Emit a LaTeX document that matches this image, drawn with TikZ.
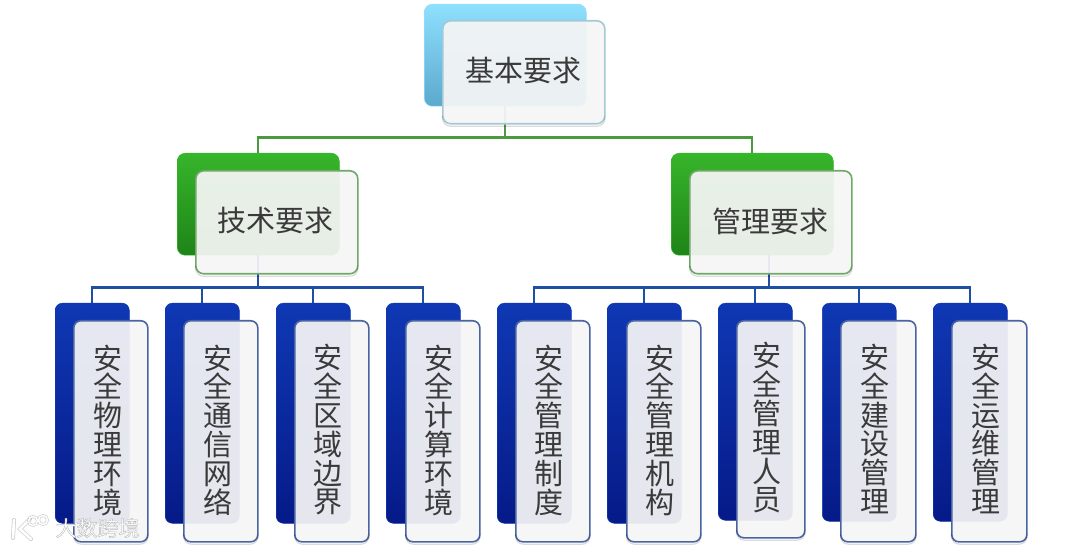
\documentclass[tikz,border=0pt]{standalone}
\usepackage{fontspec}
\setmainfont{Noto Sans CJK SC}
\usetikzlibrary{calc}
\definecolor{txt}{HTML}{3A3A3A}
\definecolor{skyT}{HTML}{8FE0FF}\definecolor{skyB}{HTML}{5BA9CC}\definecolor{skyE}{HTML}{A3C8D6}
\definecolor{grnT}{HTML}{37B52B}\definecolor{grnB}{HTML}{1E8418}\definecolor{grnE}{HTML}{6FA868}
\definecolor{bluT}{HTML}{0F38B4}\definecolor{bluB}{HTML}{061A88}\definecolor{bluE}{HTML}{4A64A2}
\definecolor{grnL}{HTML}{4C9A40}\definecolor{bluL}{HTML}{1F4FA5}
\definecolor{panel}{HTML}{F6F6F6}
\tikzset{
 backbox/.style={rounded corners=8pt,inner sep=0pt,anchor=north west,top color=#1T,bottom color=#1B,draw=#1T,line width=.5pt},
 backwide/.style={backbox=#1,minimum width=162pt,minimum height=102pt},
 backtall/.style={backbox=#1,rounded corners=7pt,minimum width=74pt,minimum height=220pt},
 frontbox/.style={rounded corners=8pt,inner sep=0pt,anchor=north west,fill=panel,fill opacity=.93,draw=#1E,line width=1.6pt},
 frontwide/.style={frontbox=#1,minimum width=162pt,minimum height=103pt},
 fronttall/.style={frontbox=#1,rounded corners=7pt,minimum width=74pt,minimum height=221pt},
 wlabel/.style={text=txt,font=\fontsize{29}{29}\selectfont,inner sep=0pt},
 vlabel/.style={text=txt,font=\fontsize{29}{28.8}\selectfont,inner sep=0pt,align=center},
 greenline/.style={draw=grnL,line width=2.4pt},
 blueline/.style={draw=bluL,line width=2.4pt},
 shadowline/.style={draw=black,opacity=.14,line width=1.2pt,rounded corners=8pt},
 wmark/.style={text=white,font=\fontsize{21}{21}\selectfont,inner sep=0pt},
 wshade/.style={draw=black!50,opacity=.4,line width=4pt,line cap=round},
 wstroke/.style={draw=white,line width=2.6pt,line cap=round}
}
\newcommand{\strokedtext}[1]{\special{pdf:code 2 Tr 0.4 w 0.72 0.72 0.72 RG}#1\special{pdf:code 0 Tr}}
\begin{document}
\begin{tikzpicture}[x=1pt,y=-1pt]
\useasboundingbox (0,0) rectangle (1080,548);
\fill[white] (0,0) rectangle (1080,548);
% back boxes
\node[backwide=sky] (topB) at (424,4) {};
\node[backwide=grn] (techB) at (177,153) {};
\node[backwide=grn] (mgmtB) at (671,153) {};
\foreach \n/\x/\h in {a/55/220,b/165/220,c/276/220,d/386/220,e/497/220,f/607/220,g/718/217,h/822/218,i/933/218}
  \node[backtall=blu,minimum height=\h pt] (\n B) at (\x,303) {};
% connectors
\coordinate (busTop) at ($(topB.south)+(0,31)$);
\coordinate (busTech) at ($(techB.south)+(0,32)$);
\coordinate (busMgmt) at ($(mgmtB.south)+(17,32)$);
\draw[greenline] (topB.south) -- (busTop);
\draw[greenline] (techB.north) |- (busTop) -| (mgmtB.north);
\draw[blueline] (techB.south) -- (busTech);
\draw[blueline] (mgmtB.south -| busMgmt) -- (busMgmt);
\draw[blueline] (aB.north) |- (busTech) -| (dB.north);
\draw[blueline] (bB.north) |- (busTech);
\draw[blueline] (cB.north) |- (busTech);
\draw[blueline] (eB.north) |- (busMgmt) -| (iB.north);
\draw[blueline] (fB.north) |- (busMgmt);
\draw[blueline] (gB.north) |- (busMgmt);
\draw[blueline] (hB.north) |- (busMgmt);
% front boxes
\node[frontwide=sky] (topF) at (442,20) {};
\node[frontwide=grn] (techF) at (195,170) {};
\node[frontwide=grn] (mgmtF) at (689,170) {};
\foreach \n/\x/\w/\h in {a/73/74/221,b/183/74/221,c/294/74/221,d/405/74/221,e/515/74/221,f/626/74/221,g/736/68/217,h/840/75/221,i/951/75/221}
  \node[fronttall=blu,minimum width=\w pt,minimum height=\h pt] (\n F) at (\x,320) {};
\foreach \n in {topF,techF,mgmtF,aF,bF,cF,dF,eF,fF,gF,hF,iF}
  \draw[shadowline] ($(\n.south west)+(.5,-9)$) -- ($(\n.south west)+(.5,1.6)$) -- ($(\n.south east)+(-.5,1.6)$) -- ($(\n.south east)+(-.5,-9)$);
% labels
\node[wlabel] (topT) at (523,71) {基本要求};
\node[wlabel] (techT) at (275,221) {技术要求};
\node[wlabel] (mgmtT) at (770,221) {管理要求};
\node[vlabel] (aT) at (108,430) {安\\全\\物\\理\\环\\境};
\node[vlabel] (bT) at (218,430) {安\\全\\通\\信\\网\\络};
\node[vlabel] (cT) at (328,430) {安\\全\\区\\域\\边\\界};
\node[vlabel] (dT) at (439,430) {安\\全\\计\\算\\环\\境};
\node[vlabel] (eT) at (549,430) {安\\全\\管\\理\\制\\度};
\node[vlabel] (fT) at (660,430) {安\\全\\管\\理\\机\\构};
\node[vlabel] (gT) at (767,428) {安\\全\\管\\理\\人\\员};
\node[vlabel] (hT) at (875,429) {安\\全\\建\\设\\管\\理};
\node[vlabel] (iT) at (986,429) {安\\全\\运\\维\\管\\理};
% watermark
\node[wmark] (wm) at (97.5,528) {\strokedtext{大数跨境}};
\draw[wshade] (14,520) -- (13,538) (30,519) -- (20,529) -- (31,539);
\draw[wstroke] (14,520) -- (13,538) (30,519) -- (20,529) -- (31,539);
\draw[draw=black!50,opacity=.4,line width=2.8pt] (33,521) circle (4.5) (43,520) circle (4.5);
\draw[draw=white,line width=1.5pt] (33,521) circle (4.5) (43,520) circle (4.5);
\end{tikzpicture}
\end{document}
